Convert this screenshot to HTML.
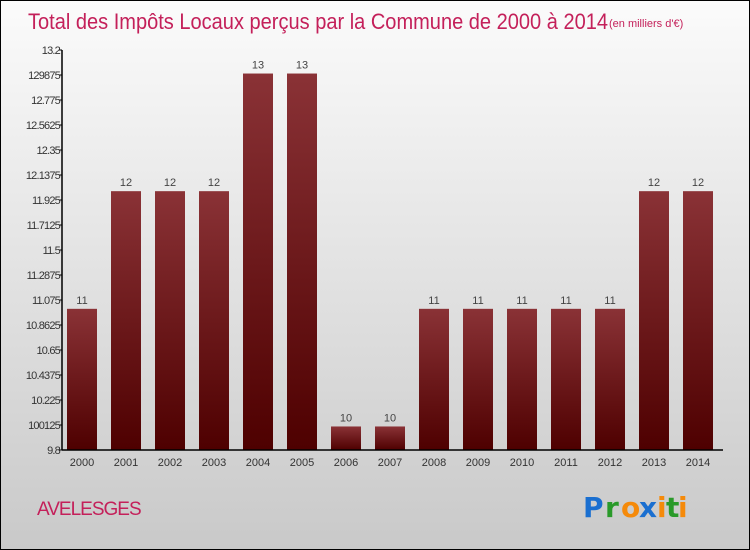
<!DOCTYPE html>
<html><head><meta charset="utf-8"><style>
body{margin:0}
#wrap{position:relative;width:748px;height:548px;border:1px solid #000;background:linear-gradient(#fbfbfb,#c9c9c9);font-family:"Liberation Sans",sans-serif;overflow:hidden}
</style></head><body>
<div id="wrap">
<svg id="svg" width="748" height="548">
<defs><linearGradient id="bg" x1="0" y1="0" x2="0" y2="1"><stop offset="0" stop-color="#8a3236"/><stop offset="1" stop-color="#4e0000"/></linearGradient></defs>
<text x="27" y="28" font-size="22" fill="#c4205a" textLength="580" lengthAdjust="spacingAndGlyphs">Total des Impôts Locaux perçus par la Commune de 2000 à 2014</text>
<text x="608" y="26" font-size="11" fill="#c4205a">(en milliers d'€)</text>
<text x="36" y="514" font-size="19" fill="#c4205a" letter-spacing="-1">AVELESGES</text>
<g font-size="28" font-weight="bold" font-family="'DejaVu Sans',sans-serif">
<text x="582" y="516" fill="#1a6fd0">P</text><text x="604" y="516" fill="#2a9a2a">r</text><text x="620" y="516" fill="#f58a0a">o</text><text x="638" y="516" fill="#1a6fd0">x</text><text x="656" y="516" fill="#f58a0a">i</text><text x="665" y="516" fill="#2a9a2a">t</text><text x="677" y="516" fill="#f58a0a">i</text></g>
<g id="plot"></g>
</svg></div>
<script>
const categories=["2000","2001","2002","2003","2004","2005","2006","2007","2008","2009","2010","2011","2012","2013","2014"];
const values=[11,12,12,12,13,13,10,10,11,11,11,11,11,12,12];
const yTicks=["9.8","10.0125","10.225","10.4375","10.65","10.8625","11.075","11.2875","11.5","11.7125","11.925","12.1375","12.35","12.5625","12.775","12.9875","13.2"];
const yMin=9.8,yMax=13.2,x0=61,x1=721,yTop=49,yBot=449;
const y=v=>yBot-(v-yMin)/(yMax-yMin)*(yBot-yTop);
const step=(x1-x0)/categories.length;
const x=i=>x0+i*step;
const NS="http://www.w3.org/2000/svg",g=document.getElementById('plot');
function mk(t,a){const e=document.createElementNS(NS,t);for(const k in a)e.setAttribute(k,a[k]);g.appendChild(e);return e;}
values.forEach((v,i)=>{
const r=mk('rect',{x:x(i)+5,y:y(v),width:step-14,height:yBot-y(v),fill:'url(#bg)'});


const t=mk('text',{x:x(i)+5+(step-14)/2,y:y(v)-5,'font-size':11,fill:'#444','text-anchor':'middle'});t.textContent=v;


const c=mk('text',{x:x(i)+5+(step-14)/2,y:yBot+16,'font-size':11,fill:'#333','text-anchor':'middle'});c.textContent=categories[i];


});
yTicks.forEach(s=>{const v=parseFloat(s);
const l=mk('line',{x1:x0-3,x2:x0,y1:y(v),y2:y(v),stroke:'#000'});


const t=mk('text',{x:x0-2,y:y(v)+4,'font-size':11,fill:'#333','text-anchor':'end','letter-spacing':'-0.8'});t.textContent=s.replace('.0125','0125').replace('.9875','9875');


});
const ya=mk('line',{x1:x0,x2:x0,y1:yTop,y2:yBot,stroke:'#000','stroke-width':1.5});


const xa=mk('line',{x1:x0,x2:x1+1,y1:yBot,y2:yBot,stroke:'#000','stroke-width':1.5});


</script>
</body></html>
